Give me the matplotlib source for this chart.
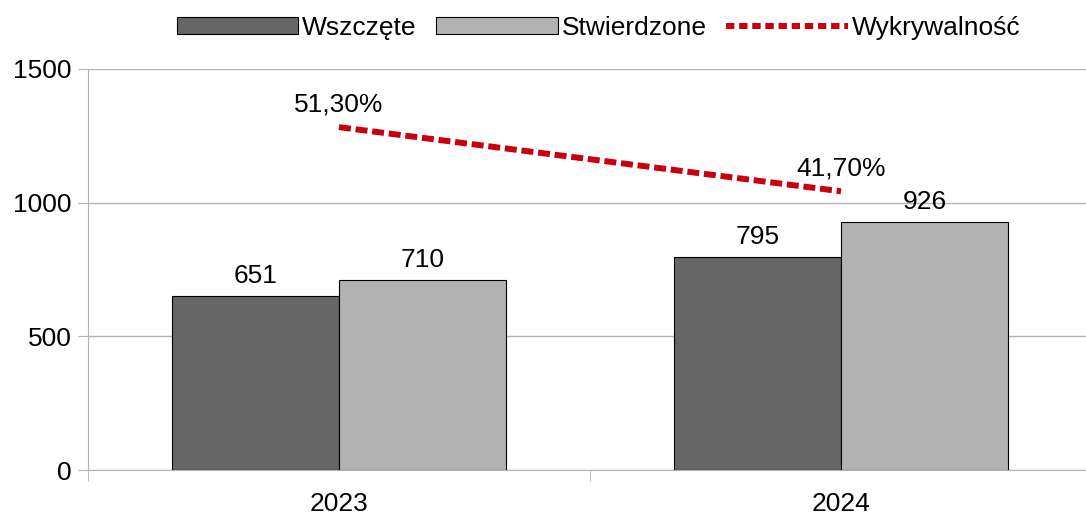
import matplotlib.pyplot as plt
from matplotlib.patches import Patch
from matplotlib.lines import Line2D

plt.rcParams['font.family'] = ['Liberation Sans', 'DejaVu Sans']

years = ["2023", "2024"]
wszczete = [651, 795]
stwierdzone = [710, 926]
wykrywalnosc = [51.3, 41.7]
wykr_labels = ["51,30%", "41,70%"]

DARK = "#666666"
LIGHT = "#b2b2b2"
RED = "#c9000c"
GRID = "#b3b3b3"
FS = 19

fig = plt.figure(figsize=(10.86, 5.16), dpi=100)
ax = fig.add_axes([88 / 1086, 46 / 516, 1004 / 1086, 401 / 516])

x = list(range(len(years)))
w = 1 / 3
b1 = ax.bar([i - w / 2 for i in x], wszczete, w, color=DARK, edgecolor="black", linewidth=0.8, zorder=3)
b2 = ax.bar([i + w / 2 for i in x], stwierdzone, w, color=LIGHT, edgecolor="black", linewidth=0.8, zorder=3)
for bars, vals in ((b1, wszczete), (b2, stwierdzone)):
    for r, v in zip(bars, vals):
        ax.annotate(str(v), (r.get_x() + r.get_width() / 2, v), xytext=(0, 6),
                    textcoords="offset points", ha="center", va="bottom", fontsize=FS)

ax.set_xlim(-0.5, 1.5)
ax.set_ylim(0, 1500)
ax.set_yticks([0, 500, 1000, 1500])
ax.grid(axis="y", color=GRID, linewidth=1, zorder=0)
ax.set_xticks(x)
ax.set_xticklabels(years)
ax.set_xticks([-0.5, 0.5, 1.5], minor=True)
ax.tick_params(axis="x", which="major", length=0, labelsize=FS, pad=16)
ax.tick_params(axis="x", which="minor", length=8, color=GRID)
ax.tick_params(axis="y", length=7, color=GRID, labelsize=FS, pad=5)
for s in ("top", "right"):
    ax.spines[s].set_visible(False)
for s in ("left", "bottom"):
    ax.spines[s].set_color(GRID)

ax2 = ax.twinx()
ax2.set_ylim(0, 60)
ax2.axis("off")
ax2.plot(x, wykrywalnosc, color=RED, linewidth=4.3, dashes=(2, 0.8),
         solid_capstyle="butt", dash_capstyle="butt", zorder=4)
for i, (v, lab) in enumerate(zip(wykrywalnosc, wykr_labels)):
    ax2.annotate(lab, (i, v), xytext=(0, 8), textcoords="offset points",
                 ha="center", va="bottom", fontsize=FS)

handles = [
    Patch(facecolor=DARK, edgecolor="black", linewidth=0.8),
    Patch(facecolor=LIGHT, edgecolor="black", linewidth=0.8),
    Line2D([0], [0], color=RED, linewidth=4.3, dashes=(1.4, 0.8)),
]
fig.legend(handles, ["Wszczęte", "Stwierdzone", "Wykrywalność"], loc="upper center",
           bbox_to_anchor=(0.551, 1.015), ncol=3, frameon=False, fontsize=FS,
           handlelength=4.6, handleheight=0.6, handletextpad=0.15, columnspacing=0.75)

fig.savefig("out.png", dpi=100)
